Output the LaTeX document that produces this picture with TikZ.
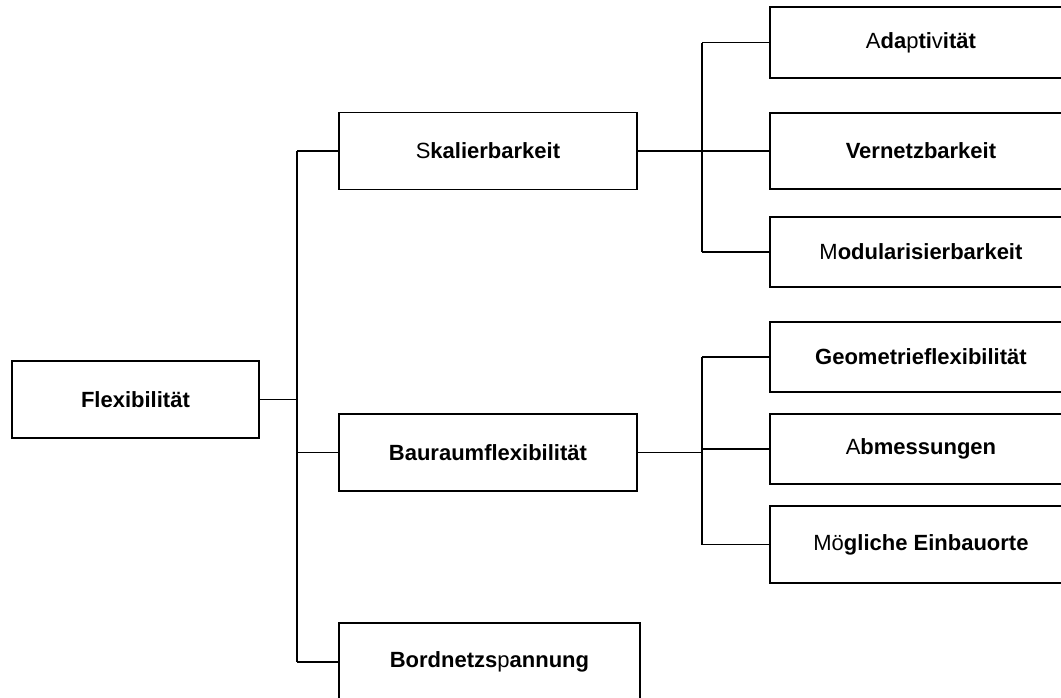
\documentclass[tikz,border=0pt]{standalone}
\usepackage{fontspec}
\setmainfont{Liberation Sans}
\newcommand\rg[1]{{\mdseries #1}}
\begin{document}
\begin{tikzpicture}[x=1pt,y=-1pt,
  box/.style={draw, line width=1.9pt, inner sep=0pt, anchor=west,
    font=\fontsize{22}{26}\selectfont\bfseries},
  link/.style={line width=1.9pt}]
\useasboundingbox (0,0) rectangle (1061,697);

% root
\node[box, minimum width=247pt, minimum height=77pt] (flex) at (11,399.5) {Flexibilität};

% second level
\node[box, minimum width=298pt, minimum height=77pt] (skal) at (338,151) {\rg{S}kalierbarkeit};
\node[box, minimum width=298pt, minimum height=77pt] (bau)  at (338,452.5) {Bauraumflexibilität};
\node[box, minimum width=301pt, minimum height=78pt] (bord) at (338,662) {Bordnetzs\rg{p}annung};

% third level
\node[box, minimum width=302pt, minimum height=71pt] (ada)  at (769,42.5) {\rg{A}da\rg{p}ti\rg{v}ität};
\node[box, minimum width=302pt, minimum height=76pt] (vern) at (769,151) {Vernetzbarkeit};
\node[box, minimum width=302pt, minimum height=70pt] (modu) at (769,252) {\rg{M}odularisierbarkeit};
\node[box, minimum width=302pt, minimum height=70pt] (geo)  at (769,357) {Geometrieflexibilität};
\node[box, minimum width=302pt, minimum height=70pt] (abm)  at (769,449) {\rg{A}bmessungen};
\node[box, minimum width=302pt, minimum height=77pt] (moeg) at (769,544.5) {\rg{Mö}gliche Einbauorte};

% trunk positions
\coordinate (j1) at (297,0);
\coordinate (j2) at (702,0);

% root to second level
\draw[link] (flex.east) -- (flex.east -| j1);
\draw[link] (skal.west -| j1) -- (bord.west -| j1);
\draw[link] (skal.west -| j1) -- (skal.west);
\draw[link] (bau.west -| j1) -- (bau.west);
\draw[link] (bord.west -| j1) -- (bord.west);

% Skalierbarkeit branch
\draw[link] (skal.east) -- (skal.east -| j2);
\draw[link] (ada.west -| j2) -- (modu.west -| j2);
\draw[link] (ada.west -| j2) -- (ada.west);
\draw[link] (vern.west -| j2) -- (vern.west);
\draw[link] (modu.west -| j2) -- (modu.west);

% Bauraumflexibilitaet branch
\draw[link] (bau.east) -- (bau.east -| j2);
\draw[link] (geo.west -| j2) -- (moeg.west -| j2);
\draw[link] (geo.west -| j2) -- (geo.west);
\draw[link] (abm.west -| j2) -- (abm.west);
\draw[link] (moeg.west -| j2) -- (moeg.west);
\end{tikzpicture}
\end{document}
